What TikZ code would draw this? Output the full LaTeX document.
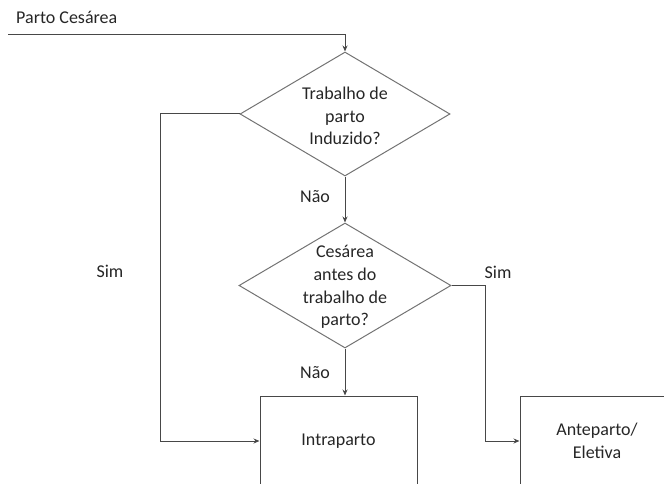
\documentclass[tikz,border=0pt]{standalone}
\usepackage{fontspec}
\setmainfont{Carlito}
\usetikzlibrary{shapes.geometric,arrows.meta}
\begin{document}
\begin{tikzpicture}[x=1pt,y=-1pt,
  ln/.style={draw=black!72, line width=1pt},
  arr/.style={ln, -{Stealth[length=6pt,width=5pt]}},
  dia/.style={diamond, draw=black!55, line width=1pt, inner sep=0pt},
  stepbox/.style={rectangle, draw=black!72, line width=1pt, inner sep=0pt},
  txt/.style={font=\fontsize{18}{22.8}\selectfont, text=black!85, align=center, inner sep=0pt}]
\useasboundingbox (0,0) rectangle (664,484);
\clip (0,0) rectangle (664,484);
% nodes
\node[txt, anchor=west] (title) at (16,17) {Parto Ces\'area};
\node[dia, minimum width=210pt, minimum height=124pt] (d1) at (345,114) {};
\node[txt] (t1) at (345,116) {Trabalho de\\parto\\Induzido?};
\node[dia, minimum width=212pt, minimum height=125pt] (d2) at (345,285.5) {};
\node[txt] (t2) at (345,287) {Ces\'area\\antes do\\trabalho de\\parto?};
\node[stepbox, minimum width=157pt, minimum height=90pt] (b1) at (338.5,441) {};
\node[txt] (bt1) at (338.5,441) {Intraparto};
\node[stepbox, minimum width=156pt, minimum height=90pt] (b2) at (598,441) {};
\node[txt] (bt2) at (597,441) {Anteparto/\\Eletiva};
% labels
\node[txt] (nao1) at (315,197) {N\~ao};
\node[txt] (nao2) at (315,373) {N\~ao};
\node[txt] (sim1) at (110,271) {Sim};
\node[txt] (sim2) at (498,272) {Sim};
% helper coordinates
\coordinate (start) at (8,35);
\coordinate (corner) at (345,35);
\coordinate (L) at (160,114);
\coordinate (R) at (485,285.5);
% connectors
\draw[arr] (start) -- (corner) -- (d1.north);
\draw[arr] (d1.south) -- (d2.north);
\draw[arr] (d2.south) -- (d2.south |- b1.north);
\draw[arr] (d1.west) -- (L) |- (b1.west);
\draw[arr] (d2.east) -- (R) |- (b2.west);
\end{tikzpicture}
\end{document}
